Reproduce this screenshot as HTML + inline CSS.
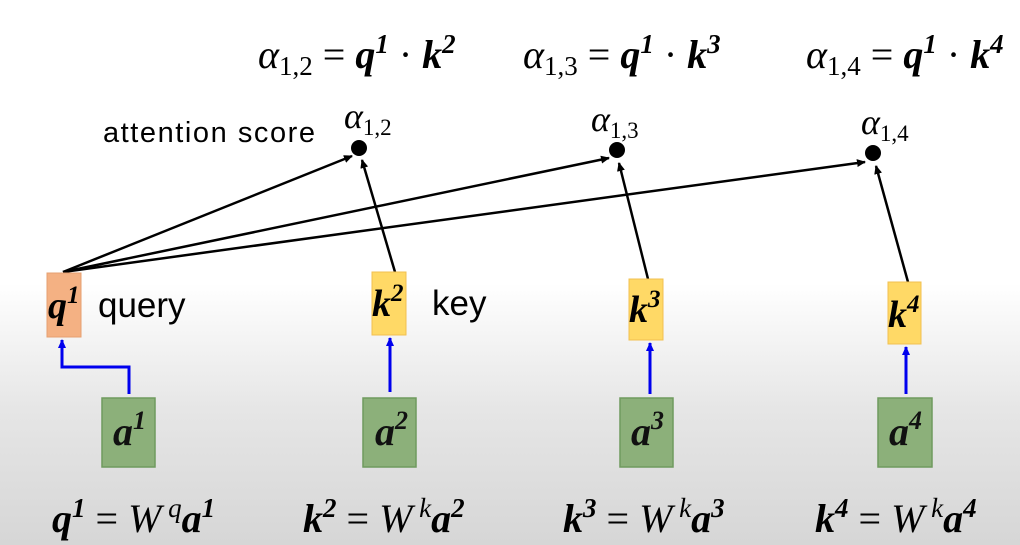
<!DOCTYPE html>
<html><head><meta charset="utf-8"><style>
html,body{margin:0;padding:0;width:1020px;height:545px;overflow:hidden}
svg{display:block}
.m{font-family:"Liberation Serif",serif;font-style:italic;font-weight:bold}
.r{font-family:"Liberation Serif",serif;font-style:italic}
.s{font-family:"Liberation Sans",sans-serif}
</style></head><body>
<svg width="1020" height="545" viewBox="0 0 1020 545" xmlns="http://www.w3.org/2000/svg">
<defs>
<linearGradient id="bg" x1="0" y1="0" x2="0" y2="1">
<stop offset="0" stop-color="#ffffff"/>
<stop offset="0.52" stop-color="#ffffff"/>
<stop offset="0.75" stop-color="#e6e6e6"/>
<stop offset="1" stop-color="#d6d6d6"/>
</linearGradient>
<marker id="ak" markerWidth="10" markerHeight="10" refX="8" refY="4" orient="auto" markerUnits="userSpaceOnUse"><path d="M0,0 L9,4 L0,8 Z" fill="#000"/></marker>
<marker id="ab" markerWidth="10" markerHeight="10" refX="8" refY="4" orient="auto" markerUnits="userSpaceOnUse"><path d="M0,0 L9,4 L0,8 Z" fill="#0000ee"/></marker>
</defs>
<rect width="1020" height="545" fill="url(#bg)"/>

<!-- top formulas -->
<g font-size="40">
<text x="258" y="68" class="r">α<tspan font-size="27" font-style="normal" dy="7">1,2</tspan><tspan dy="-7" font-style="normal"> = </tspan><tspan class="m">q</tspan><tspan class="m" font-size="27" dy="-15">1</tspan><tspan dy="15" font-style="normal"> · </tspan><tspan class="m">k</tspan><tspan class="m" font-size="27" dy="-15">2</tspan></text>
<text x="523" y="68" class="r">α<tspan font-size="27" font-style="normal" dy="7">1,3</tspan><tspan dy="-7" font-style="normal"> = </tspan><tspan class="m">q</tspan><tspan class="m" font-size="27" dy="-15">1</tspan><tspan dy="15" font-style="normal"> · </tspan><tspan class="m">k</tspan><tspan class="m" font-size="27" dy="-15">3</tspan></text>
<text x="806" y="68" class="r">α<tspan font-size="27" font-style="normal" dy="7">1,4</tspan><tspan dy="-7" font-style="normal"> = </tspan><tspan class="m">q</tspan><tspan class="m" font-size="27" dy="-15">1</tspan><tspan dy="15" font-style="normal"> · </tspan><tspan class="m">k</tspan><tspan class="m" font-size="27" dy="-15">4</tspan></text>
</g>

<text x="103" y="142" class="s" font-size="29" textLength="212">attention score</text>

<!-- alpha labels -->
<g font-size="36" class="r">
<text x="344" y="128">α<tspan font-size="23" font-style="normal" dy="7">1,2</tspan></text>
<text x="591" y="131">α<tspan font-size="23" font-style="normal" dy="7">1,3</tspan></text>
<text x="861" y="134">α<tspan font-size="23" font-style="normal" dy="7">1,4</tspan></text>
</g>

<!-- lines -->
<g stroke="#000" stroke-width="2.5" fill="none">
<line x1="63" y1="272" x2="352" y2="156" marker-end="url(#ak)"/>
<line x1="63" y1="272" x2="609" y2="158" marker-end="url(#ak)"/>
<line x1="63" y1="272" x2="865" y2="162" marker-end="url(#ak)"/>
<line x1="395" y1="272" x2="362" y2="160" marker-end="url(#ak)"/>
<line x1="648" y1="279" x2="619" y2="163" marker-end="url(#ak)"/>
<line x1="908" y1="282" x2="876" y2="166" marker-end="url(#ak)"/>
</g>
<circle cx="359" cy="148" r="8" fill="#000"/>
<circle cx="617" cy="150" r="8" fill="#000"/>
<circle cx="873" cy="153" r="8" fill="#000"/>

<!-- blue arrows -->
<g stroke="#0000ee" stroke-width="3" fill="none">
<polyline points="129,394 129,367 62,367 62,340" marker-end="url(#ab)"/>
<line x1="390" y1="392" x2="390" y2="338" marker-end="url(#ab)"/>
<line x1="650" y1="394" x2="650" y2="343" marker-end="url(#ab)"/>
<line x1="906" y1="394" x2="906" y2="347" marker-end="url(#ab)"/>
</g>

<!-- q / k boxes -->
<rect x="47" y="273" width="34" height="64" fill="#f4b183" stroke="#e6a070"/>
<rect x="372" y="272" width="34" height="63" fill="#ffd966" stroke="#f2c050"/>
<rect x="629" y="279" width="34" height="61" fill="#ffd966" stroke="#f2c050"/>
<rect x="888" y="282" width="33" height="62" fill="#ffd966" stroke="#f2c050"/>
<g font-size="38" class="m">
<text x="48" y="318">q<tspan font-size="25" dy="-15">1</tspan></text>
<text x="372" y="316">k<tspan font-size="25" dy="-15">2</tspan></text>
<text x="629" y="322">k<tspan font-size="25" dy="-15">3</tspan></text>
<text x="888" y="327">k<tspan font-size="25" dy="-15">4</tspan></text>
</g>
<text x="98" y="317" class="s" font-size="35">query</text>
<text x="432" y="315" class="s" font-size="35">key</text>

<!-- a boxes -->
<g fill="#8cb07a" stroke="#6f9a5e" stroke-width="1.5">
<rect x="102" y="398" width="53" height="69"/>
<rect x="363" y="398" width="53" height="69"/>
<rect x="620" y="398" width="53" height="69"/>
<rect x="878" y="398" width="54" height="69"/>
</g>
<g font-size="40" class="m" fill="#111">
<text x="113" y="445">a<tspan font-size="26" dy="-16">1</tspan></text>
<text x="375" y="445">a<tspan font-size="26" dy="-16">2</tspan></text>
<text x="631" y="445">a<tspan font-size="26" dy="-16">3</tspan></text>
<text x="889" y="445">a<tspan font-size="26" dy="-16">4</tspan></text>
</g>

<!-- bottom formulas -->
<g font-size="40">
<text x="52" y="532"><tspan class="m">q</tspan><tspan class="m" font-size="27" dy="-15">1</tspan><tspan dy="15" font-family="Liberation Serif"> = </tspan><tspan class="r">W</tspan><tspan class="r" font-size="27" dy="-15"> q</tspan><tspan class="m" dy="15">a</tspan><tspan class="m" font-size="27" dy="-15">1</tspan></text>
<text x="303" y="532"><tspan class="m">k</tspan><tspan class="m" font-size="27" dy="-15">2</tspan><tspan dy="15" font-family="Liberation Serif"> = </tspan><tspan class="r">W</tspan><tspan class="r" font-size="27" dy="-15"> k</tspan><tspan class="m" dy="15">a</tspan><tspan class="m" font-size="27" dy="-15">2</tspan></text>
<text x="563" y="532"><tspan class="m">k</tspan><tspan class="m" font-size="27" dy="-15">3</tspan><tspan dy="15" font-family="Liberation Serif"> = </tspan><tspan class="r">W</tspan><tspan class="r" font-size="27" dy="-15"> k</tspan><tspan class="m" dy="15">a</tspan><tspan class="m" font-size="27" dy="-15">3</tspan></text>
<text x="815" y="532"><tspan class="m">k</tspan><tspan class="m" font-size="27" dy="-15">4</tspan><tspan dy="15" font-family="Liberation Serif"> = </tspan><tspan class="r">W</tspan><tspan class="r" font-size="27" dy="-15"> k</tspan><tspan class="m" dy="15">a</tspan><tspan class="m" font-size="27" dy="-15">4</tspan></text>
</g>
</svg>
</body></html>
